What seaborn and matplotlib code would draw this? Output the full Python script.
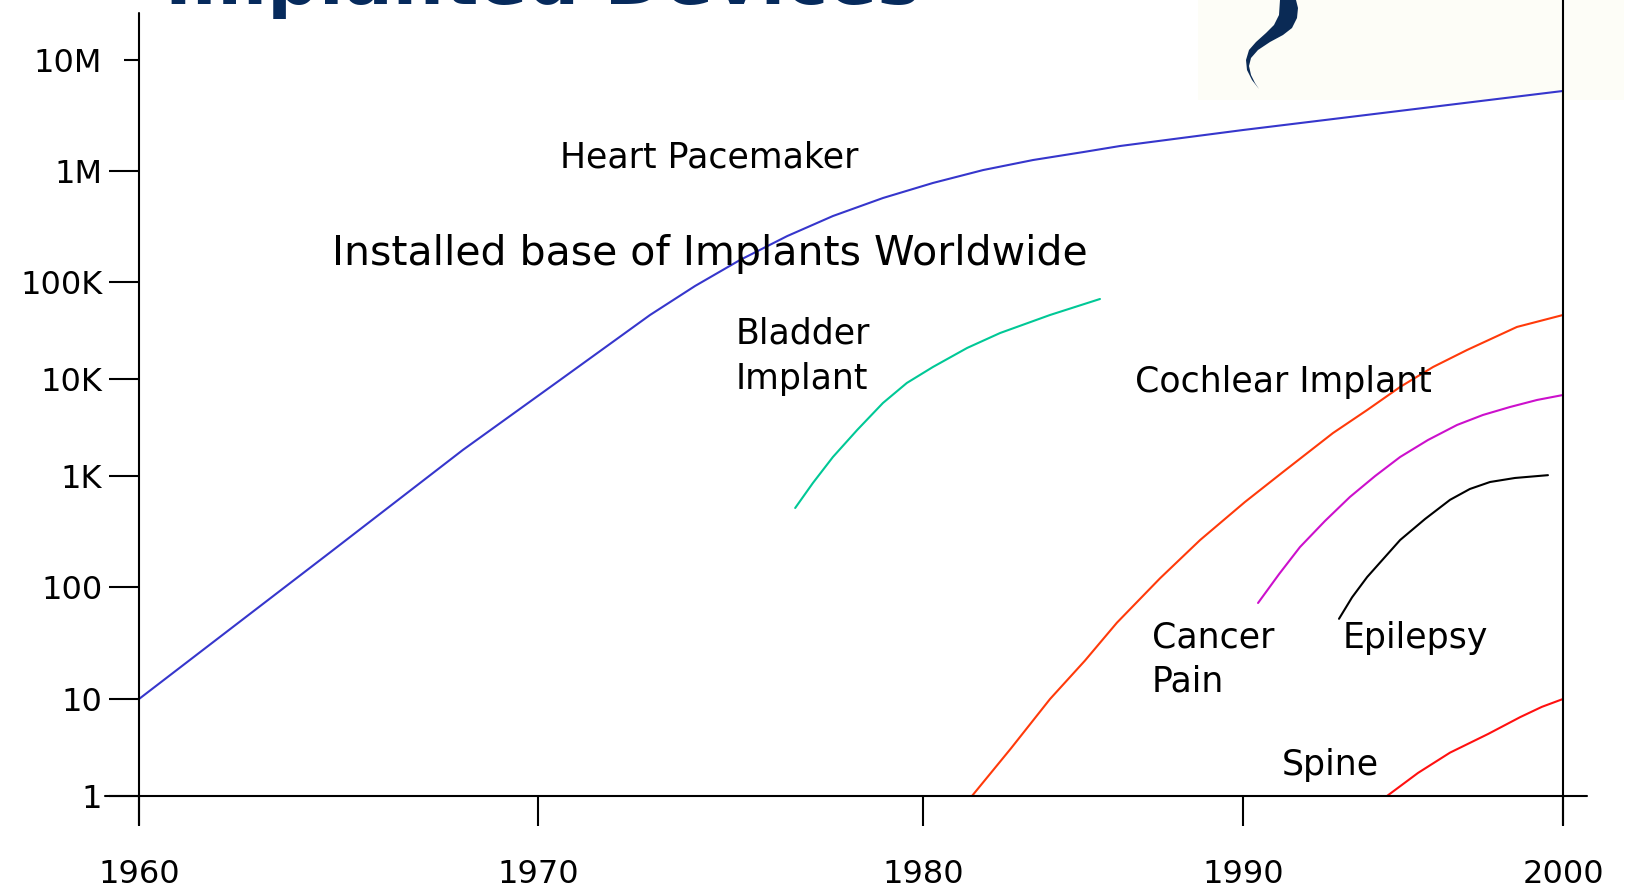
import numpy as np
import pandas as pd
import matplotlib
matplotlib.use('Agg')
import matplotlib.pyplot as plt
import seaborn as sns
from matplotlib.patches import Polygon, Rectangle

# installed base of implants worldwide
pacemaker_year = [1960.0, 1964.79, 1968.12, 1970.57, 1972.91, 1974.08, 1975.25, 1976.47, 1977.66,
                  1978.96, 1980.31, 1981.88, 1983.44, 1985.0, 1986.16, 1990.0, 2000.0]
pacemaker_val = [10, 205, 1860, 9750, 45700, 91000, 158000, 259000, 393000,
                 571000, 780000, 1020000, 1256000, 1480000, 1680000, 2340000, 5260000]

bladder_year = [1976.68, 1977.14, 1977.66, 1978.29, 1978.96, 1979.58, 1980.31, 1981.38,
                1982.41, 1983.97, 1985.53]
bladder_val = [515, 865, 1570, 2980, 5660, 9100, 13300, 20900, 29800, 45700, 66800]

cochlear_year = [1981.53, 1982.75, 1983.97, 1985.06, 1986.06, 1987.41, 1988.66, 1990.06,
                 1991.25, 1992.81, 1993.88, 1994.91, 1995.94, 1997.0, 1998.56, 2000.0]
cochlear_val = [1, 3.1, 10, 22, 48, 120, 265, 583, 1100, 2770, 4790, 8280, 13300, 19900, 34400, 45700]

cancer_year = [1990.47, 1991.13, 1991.78, 1992.56, 1993.34, 1994.13, 1994.91, 1995.78,
               1996.69, 1997.5, 1998.34, 1999.19, 2000.0]
cancer_val = [72, 131, 229, 393, 647, 1000, 1570, 2350, 3360, 4260, 5140, 6080, 6840]

epilepsy_year = [1993.0, 1993.41, 1993.88, 1994.91, 1995.69, 1996.47, 1997.09, 1997.72, 1998.5, 1999.53]
epilepsy_val = [52, 81, 123, 265, 410, 610, 764, 883, 960, 1020]

spine_year = [1994.5, 1995.47, 1996.47, 1997.66, 1998.66, 1999.34, 2000.0]
spine_val = [1, 1.73, 2.8, 4.36, 6.5, 8.3, 10]

year_ticks = [1960, 1970, 1980, 1990, 2000]
value_ticks = [1, 10, 100, 1e3, 1e4, 1e5, 1e6, 1e7]
value_labels = ['1', '10', '100', '1K', '10K', '100K', '1M', '10M']

palette = {'Heart Pacemaker': '#3636cc', 'Bladder': '#00c896', 'Cochlear': '#ff3a0a',
           'Cancer Pain': '#cc10cc', 'Epilepsy': '#000000', 'Spine': '#ff1010'}

frames = []
for name, xs, ys in [('Heart Pacemaker', pacemaker_year, pacemaker_val),
                     ('Bladder', bladder_year, bladder_val),
                     ('Cochlear', cochlear_year, cochlear_val),
                     ('Cancer Pain', cancer_year, cancer_val),
                     ('Epilepsy', epilepsy_year, epilepsy_val),
                     ('Spine', spine_year, spine_val)]:
    frames.append(pd.DataFrame({'year': xs, 'installed': ys, 'device': name}))
df = pd.concat(frames, ignore_index=True)

# the hand drawn axes are not evenly spaced -> piecewise scales
YEAR_KNOTS = [1900, 1960, 1970, 1980, 1990, 2000, 2100]
YEAR_POS = [-2394, 0, 399, 784, 1104, 1424, 4624]
LOG_KNOTS = [-10, 0, 1, 2, 3, 4, 5, 6, 7, 20]
LOG_POS = [-970, 0, 97, 209, 320, 417, 514, 625, 736, 736 + 13 * 111]

def fwd_x(x):
    return np.interp(x, YEAR_KNOTS, YEAR_POS)

def inv_x(p):
    return np.interp(p, YEAR_POS, YEAR_KNOTS)

def fwd_y(y):
    return np.interp(np.log10(np.clip(y, 1e-12, None)), LOG_KNOTS, LOG_POS)

def inv_y(p):
    return 10 ** np.interp(p, LOG_POS, LOG_KNOTS)

sns.set_style('white')
plt.rcParams['font.family'] = ['DejaVu Sans']

W, H = 1648, 894
fig = plt.figure(figsize=(W / 100, H / 100), dpi=100)
ax = fig.add_axes([139 / W, (H - 796) / H, 1424 / W, 736 / H])
ax.set_facecolor('none')

# faint logo panel + swoosh
fig.patches.append(Rectangle((1198 / W, 1 - 100 / H), 426 / W, 100 / H, transform=fig.transFigure,
                             facecolor='#fdfdf7', edgecolor='none', zorder=-1))
sw = [(1296, 0), (1298, 8), (1297, 18), (1292, 28), (1283, 35), (1270, 42), (1258, 50), (1251, 58),
      (1249, 66), (1251, 75), (1255, 83), (1259, 89),
      (1252, 80), (1247, 70), (1246, 60), (1249, 50), (1256, 42), (1266, 33), (1274, 25),
      (1279, 15), (1280, 0)]
fig.patches.append(Polygon([(x / W, 1 - y / H) for x, y in sw], closed=True, transform=fig.transFigure,
                           facecolor='#0a2a55', edgecolor='none', zorder=5))

sns.lineplot(data=df, x='year', y='installed', hue='device', palette=palette, units='device',
             estimator=None, sort=False, linewidth=1.5, legend=False, ax=ax)

ax.set_xscale('function', functions=(fwd_x, inv_x))
ax.set_yscale('function', functions=(fwd_y, inv_y))
ax.set_xlim(1960, 2000)
ax.set_ylim(1, 1e7)
ax.set_xticks(year_ticks, [str(y) for y in year_ticks])
ax.set_yticks(value_ticks, value_labels)
ax.minorticks_off()
ax.set_xlabel('')
ax.set_ylabel('')
for s in ax.spines.values():
    s.set_visible(False)
ax.tick_params(axis='both', direction='out', length=21.5, width=1.5, color='black',
               labelcolor='black', labelsize=23, left=True, bottom=True)
ax.tick_params(axis='x', pad=24)
ax.tick_params(axis='y', pad=5)
# the top tick on the slide is drawn shorter
ax.yaxis.get_major_ticks()[-1].tick1line.set_markersize(11)

ax.axhline(1, xmin=-0.0239, xmax=1.0169, color='black', lw=1.5, clip_on=False)
ax.axvline(1960, ymin=-0.0394, ymax=1.0639, color='black', lw=1.5, clip_on=False)
ax.axvline(2000, ymin=-0.0394, ymax=1.09, color='black', lw=1.5, clip_on=False)

# labels (pixel positions of the original slide)
labels = [('Heart Pacemaker', 560, 168, 25),
          ('Installed base of Implants Worldwide', 332, 265, 29.5),
          ('Bladder', 736, 344, 25), ('Implant', 736, 389, 25),
          ('Cochlear Implant', 1135, 392, 25),
          ('Cancer', 1152, 648, 25), ('Pain', 1152, 692, 25),
          ('Epilepsy', 1343, 648, 25),
          ('Spine', 1282, 775, 25)]
for txt, px, py, fs in labels:
    fig.text(px / W, 1 - py / H, txt, fontsize=fs, ha='left', va='baseline', color='black')

fig.text(165 / W, 1 - 4 / H, 'Implanted Devices', fontsize=52, fontweight='bold',
         color='#062a5c', ha='left', va='baseline')

fig.savefig('out.png', dpi=100)
